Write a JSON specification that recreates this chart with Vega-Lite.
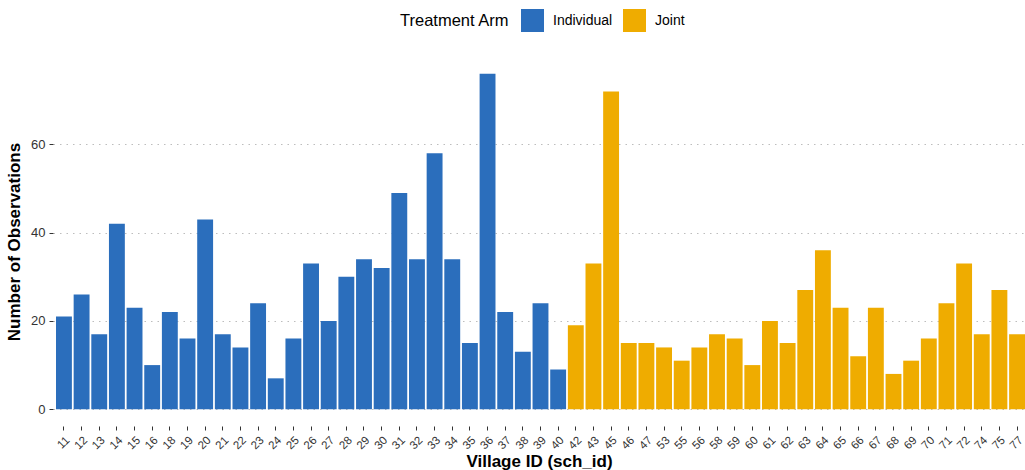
{
  "$schema": "https://vega.github.io/schema/vega-lite/v6.json",
  "width": 972,
  "height": 369,
  "autosize": {"type": "none"},
  "padding": {"left": 53, "top": 57, "right": 0, "bottom": 44},
  "background": "white",
  "config": {
    "view": {"stroke": null},
    "font": "Liberation Sans",
    "axis": {"domain": false, "labelFont": "Liberation Sans", "titleFont": "Liberation Sans"}
  },
  "data": {
    "values": [
      {"sch_id": 11, "arm": "Individual", "n": 21},
      {"sch_id": 12, "arm": "Individual", "n": 26},
      {"sch_id": 13, "arm": "Individual", "n": 17},
      {"sch_id": 14, "arm": "Individual", "n": 42},
      {"sch_id": 15, "arm": "Individual", "n": 23},
      {"sch_id": 16, "arm": "Individual", "n": 10},
      {"sch_id": 18, "arm": "Individual", "n": 22},
      {"sch_id": 19, "arm": "Individual", "n": 16},
      {"sch_id": 20, "arm": "Individual", "n": 43},
      {"sch_id": 21, "arm": "Individual", "n": 17},
      {"sch_id": 22, "arm": "Individual", "n": 14},
      {"sch_id": 23, "arm": "Individual", "n": 24},
      {"sch_id": 24, "arm": "Individual", "n": 7},
      {"sch_id": 25, "arm": "Individual", "n": 16},
      {"sch_id": 26, "arm": "Individual", "n": 33},
      {"sch_id": 27, "arm": "Individual", "n": 20},
      {"sch_id": 28, "arm": "Individual", "n": 30},
      {"sch_id": 29, "arm": "Individual", "n": 34},
      {"sch_id": 30, "arm": "Individual", "n": 32},
      {"sch_id": 31, "arm": "Individual", "n": 49},
      {"sch_id": 32, "arm": "Individual", "n": 34},
      {"sch_id": 33, "arm": "Individual", "n": 58},
      {"sch_id": 34, "arm": "Individual", "n": 34},
      {"sch_id": 35, "arm": "Individual", "n": 15},
      {"sch_id": 36, "arm": "Individual", "n": 76},
      {"sch_id": 37, "arm": "Individual", "n": 22},
      {"sch_id": 38, "arm": "Individual", "n": 13},
      {"sch_id": 39, "arm": "Individual", "n": 24},
      {"sch_id": 40, "arm": "Individual", "n": 9},
      {"sch_id": 42, "arm": "Joint", "n": 19},
      {"sch_id": 43, "arm": "Joint", "n": 33},
      {"sch_id": 45, "arm": "Joint", "n": 72},
      {"sch_id": 46, "arm": "Joint", "n": 15},
      {"sch_id": 47, "arm": "Joint", "n": 15},
      {"sch_id": 53, "arm": "Joint", "n": 14},
      {"sch_id": 55, "arm": "Joint", "n": 11},
      {"sch_id": 56, "arm": "Joint", "n": 14},
      {"sch_id": 58, "arm": "Joint", "n": 17},
      {"sch_id": 59, "arm": "Joint", "n": 16},
      {"sch_id": 60, "arm": "Joint", "n": 10},
      {"sch_id": 61, "arm": "Joint", "n": 20},
      {"sch_id": 62, "arm": "Joint", "n": 15},
      {"sch_id": 63, "arm": "Joint", "n": 27},
      {"sch_id": 64, "arm": "Joint", "n": 36},
      {"sch_id": 65, "arm": "Joint", "n": 23},
      {"sch_id": 66, "arm": "Joint", "n": 12},
      {"sch_id": 67, "arm": "Joint", "n": 23},
      {"sch_id": 68, "arm": "Joint", "n": 8},
      {"sch_id": 69, "arm": "Joint", "n": 11},
      {"sch_id": 70, "arm": "Joint", "n": 16},
      {"sch_id": 71, "arm": "Joint", "n": 24},
      {"sch_id": 72, "arm": "Joint", "n": 33},
      {"sch_id": 74, "arm": "Joint", "n": 17},
      {"sch_id": 75, "arm": "Joint", "n": 27},
      {"sch_id": 77, "arm": "Joint", "n": 17}
    ]
  },
  "mark": {"type": "bar"},
  "encoding": {
    "x": {
      "field": "sch_id",
      "type": "ordinal",
      "sort": "ascending",
      "scale": {"paddingInner": 0.1, "paddingOuter": 0.085, "align": 1},
      "axis": {
        "title": "Village ID (sch_id)",
        "titleFontSize": 17,
        "titleFontWeight": "bold",
        "titleColor": "#000000",
        "titlePadding": 2,
        "labelAngle": -45,
        "labelFontSize": 11.5,
        "labelColor": "#333333",
        "labelPadding": 4,
        "tickSize": 4,
        "tickColor": "#333333",
        "tickWidth": 1,
        "grid": false
      }
    },
    "y": {
      "field": "n",
      "type": "quantitative",
      "scale": {"domain": [-3.8, 79.8], "nice": false, "zero": false},
      "axis": {
        "title": "Number of Observations",
        "titleFontSize": 17,
        "titleFontWeight": "bold",
        "titleColor": "#000000",
        "titlePadding": 7,
        "values": [0, 20, 40, 60],
        "labelFontSize": 13,
        "labelColor": "#333333",
        "labelPadding": 4,
        "tickSize": 4,
        "tickColor": "#333333",
        "grid": true,
        "gridColor": "#bdbdbd",
        "gridDash": [1.5, 5],
        "gridWidth": 1.2
      }
    },
    "color": {
      "field": "arm",
      "type": "nominal",
      "scale": {"domain": ["Individual", "Joint"], "range": ["#2B6EBC", "#EFAC00"]},
      "legend": {
        "title": "Treatment Arm",
        "orient": "none",
        "legendX": 347,
        "legendY": -48,
        "direction": "horizontal",
        "titleOrient": "left",
        "titleFontSize": 16.5,
        "titleFontWeight": "normal",
        "titleColor": "#000000",
        "titlePadding": 11,
        "labelFontSize": 14,
        "labelColor": "#000000",
        "labelOffset": 9,
        "columnPadding": 10,
        "symbolType": "square",
        "symbolSize": 529,
        "symbolStrokeWidth": 0,
        "symbolOpacity": 1
      }
    }
  }
}
